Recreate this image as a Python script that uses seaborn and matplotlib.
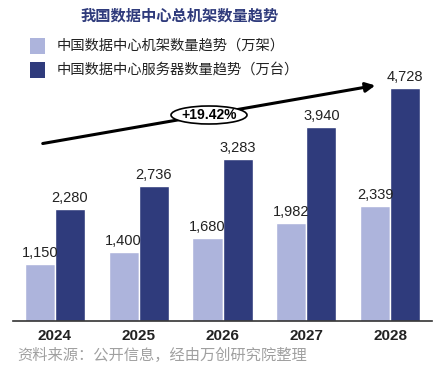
import matplotlib
matplotlib.use("Agg")
import matplotlib.pyplot as plt
import seaborn as sns
import pandas as pd
from matplotlib.patches import Ellipse, Rectangle

years = ["2024", "2025", "2026", "2027", "2028"]
racks = [1150, 1400, 1680, 1982, 2339]
servers = [2280, 2736, 3283, 3940, 4728]
series_names = ["中国数据中心机架数量趋势（万架）", "中国数据中心服务器数量趋势（万台）"]
title = "我国数据中心总机架数量趋势"
source = "资料来源：公开信息，经由万创研究院整理"
growth = "+19.42%"

light = "#adb4dc"
dark = "#2f3b7c"

sns.set_theme(style="white")
plt.rcParams["font.family"] = ["Liberation Sans", "Noto Sans CJK SC", "DejaVu Sans"]

df = pd.DataFrame({
    "year": years * 2,
    "value": racks + servers,
    "series": [series_names[0]] * 5 + [series_names[1]] * 5,
})

W, H = 448, 373
fig = plt.figure(figsize=(W / 100, H / 100), dpi=100)

def fx(px):
    return px / W

def fy(py):
    return 1 - py / H

ax = fig.add_axes([fx(13), fy(321), fx(432) - fx(13), fy(65) - fy(321)])
sns.barplot(data=df, x="year", y="value", hue="series", ax=ax,
            palette=[light, dark], width=0.72, gap=0, saturation=1,
            legend=False)
ax.set_xlim(-0.5, 4.5)
ax.set_ylim(0, 5200)
for s in ["top", "right", "left"]:
    ax.spines[s].set_visible(False)
ax.spines["bottom"].set_color("#333333")
ax.spines["bottom"].set_linewidth(1.2)
ax.set_yticks([])
ax.set_xlabel("")
ax.set_ylabel("")
ax.tick_params(axis="x", length=0, pad=6)
for lab in ax.get_xticklabels():
    lab.set_fontsize(11)
    lab.set_fontweight("bold")
    lab.set_color("#222222")

for cont in ax.containers:
    ax.bar_label(cont, labels=[f"{v:,.0f}" for v in cont.datavalues],
                 padding=3, fontsize=10.5, color="#222222")

# Title
fig.text(fx(180), fy(16), title, ha="center", va="center",
         fontsize=11, fontweight="bold", color="#2f3b7c",
         family=["Noto Sans CJK SC"])

# Legend
for i, (name, c) in enumerate(zip(series_names, [light, dark])):
    py = 46 + i * 24
    fig.patches.append(Rectangle((fx(30), fy(py + 8)), fx(15), fy(py - 8) - fy(py + 8),
                                 transform=fig.transFigure, facecolor=c,
                                 edgecolor="none"))
    fig.text(fx(57), fy(py), name, ha="left", va="center", fontsize=10.3,
             color="#222222", family=["Noto Sans CJK SC"])

# Growth arrow
fig.add_artist(matplotlib.patches.FancyArrowPatch(
    (fx(40), fy(144)), (fx(378), fy(85)), transform=fig.transFigure,
    arrowstyle="-|>", mutation_scale=14, color="black", linewidth=2.2))
ell = Ellipse((fx(209), fy(115)), fx(76), fy(0) - fy(18), transform=fig.transFigure,
              facecolor="white", edgecolor="black", linewidth=1.2, zorder=5)
fig.add_artist(ell)
fig.text(fx(209), fy(115), growth, ha="center", va="center", fontsize=10,
         fontweight="bold", color="black", zorder=6)

# Source
fig.text(fx(17), fy(355), source, ha="left", va="center", fontsize=11,
         color="#a0a0a0", family=["Noto Sans CJK SC"])

fig.savefig("out.png", dpi=100)
